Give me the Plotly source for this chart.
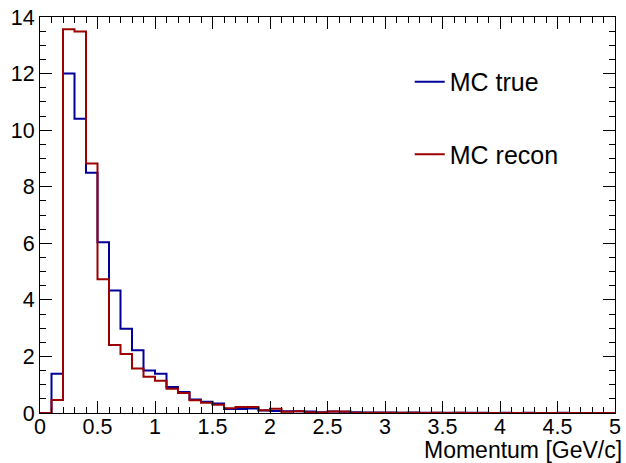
import plotly.graph_objects as go

# bin edges 0..5 with width 0.1 (50 bins)
bin_lo = [round(0.1 * i, 1) for i in range(50)]
bin_hi = [round(0.1 * (i + 1), 1) for i in range(50)]

mc_true = [0.0, 1.39, 12.0, 10.4, 8.49, 6.04, 4.33, 2.98, 2.22, 1.50,
           1.39, 0.92, 0.74, 0.48, 0.40, 0.34, 0.14, 0.14, 0.16, 0.09,
           0.07, 0.06, 0.06, 0.05, 0.03, 0.05, 0.04, 0.03, 0.02, 0.02,
           0.02, 0.01, 0.02, 0.01, 0.01, 0.01, 0.01, 0.01, 0.01, 0.0,
           0.01, 0.0, 0.01, 0.0, 0.0, 0.01, 0.0, 0.0, 0.0, 0.0]
mc_recon = [0.0, 0.46, 13.57, 13.49, 8.82, 4.73, 2.40, 2.09, 1.57, 1.28,
            1.14, 0.86, 0.71, 0.45, 0.36, 0.29, 0.17, 0.21, 0.21, 0.10,
            0.15, 0.04, 0.06, 0.03, 0.02, 0.05, 0.05, 0.01, 0.01, 0.01,
            0.01, 0.01, 0.01, 0.0, 0.01, 0.0, 0.01, 0.0, 0.0, 0.0,
            0.0, 0.0, 0.0, 0.0, 0.0, 0.0, 0.0, 0.0, 0.0, 0.0]

series_names = ["MC true", "MC recon"]
series_colors = ["#000099", "#9c0000"]
x_tick_vals = [0, 0.5, 1, 1.5, 2, 2.5, 3, 3.5, 4, 4.5, 5]
x_tick_text = ["0", "0.5", "1", "1.5", "2", "2.5", "3", "3.5", "4", "4.5", "5"]
y_tick_vals = [0, 2, 4, 6, 8, 10, 12, 14]
x_title = "Momentum [GeV/c]"

FONT = "Liberation Sans, Arial, Helvetica, sans-serif"


def step_xy(vals):
    xs = [bin_lo[0]] + bin_lo + [bin_hi[-1]]
    ys = [0.0] + list(vals) + [vals[-1]]
    return xs, ys


fig = go.Figure()
for i, (name, vals) in enumerate(zip(series_names, [mc_true, mc_recon])):
    xs, ys = step_xy(vals)
    fig.add_trace(go.Scatter(
        x=xs, y=ys, mode="lines", name=name,
        line=dict(color=series_colors[i], width=2, shape="hv"),
        legendgroup=f"g{i}",
    ))

axis_common = dict(
    showline=True, linecolor="black", linewidth=1, mirror="allticks",
    ticks="inside", ticklen=12, tickwidth=1, tickcolor="black",
    showgrid=False, zeroline=False, ticklabeloverflow="allow",
    tickfont=dict(family=FONT, size=21.5, color="black"),
)

fig.update_xaxes(range=[0, 5], tickvals=x_tick_vals, ticktext=x_tick_text,
                 ticklabelstandoff=-6,
                 minor=dict(dtick=0.1, ticklen=6, ticks="inside", tickcolor="black", showgrid=False),
                 **axis_common)
fig.update_yaxes(range=[0, 14], tickvals=y_tick_vals,
                 minor=dict(dtick=0.5, ticklen=6, ticks="inside", tickcolor="black", showgrid=False),
                 **axis_common)

fig.add_annotation(text=x_title, xref="paper", yref="paper", x=1.016, y=-0.093,
                   xanchor="right", yanchor="middle", showarrow=False,
                   font=dict(family=FONT, size=23, color="black"))

fig.update_layout(
    width=626, height=463,
    margin=dict(l=40, r=5, t=17, b=50),
    plot_bgcolor="white", paper_bgcolor="white",
    legend=dict(x=0.643, y=0.894, xanchor="left", yanchor="top",
                font=dict(family=FONT, size=25, color="black"),
                bgcolor="rgba(0,0,0,0)", tracegroupgap=37, itemwidth=30),
)

fig.write_html("out.html")
